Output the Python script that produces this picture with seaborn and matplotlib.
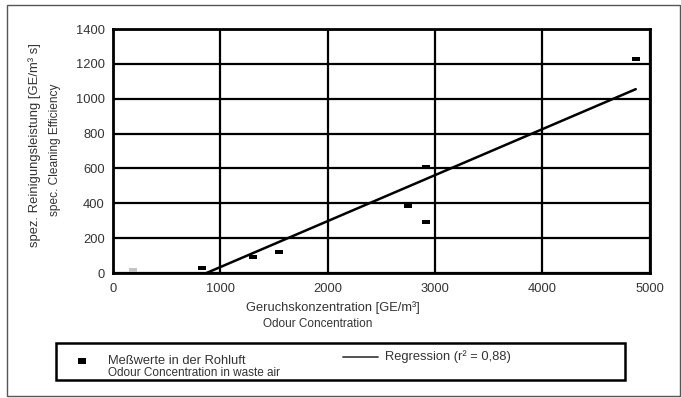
import matplotlib
matplotlib.use('Agg')
import matplotlib.pyplot as plt
import seaborn as sns
import pandas as pd
from matplotlib.patches import Rectangle
from matplotlib.lines import Line2D

# measured points (odour concentration vs. cleaning efficiency)
conc = [830, 1300, 1550, 2750, 2920, 2920, 4870]
efficiency = [30, 90, 120, 385, 295, 610, 1230]
# faint point near the origin
faint_conc = [190]
faint_eff = [15]
# regression line end points
reg_x = [870, 4870]
reg_y = [0, 1055]

x_ticks = [0, 1000, 2000, 3000, 4000, 5000]
y_ticks = [0, 200, 400, 600, 800, 1000, 1200, 1400]

sns.set_theme(style='white')
plt.rcParams['font.family'] = ['Liberation Sans', 'DejaVu Sans']

fig = plt.figure(figsize=(6.81, 3.98), dpi=100)
ax = fig.add_axes([0.166, 0.314, 0.788, 0.613])

rect_marker = [(-1, -0.55), (1, -0.55), (1, 0.55), (-1, 0.55)]
df = pd.DataFrame({'x': conc, 'y': efficiency})
sns.scatterplot(data=df, x='x', y='y', ax=ax, marker=rect_marker, s=30,
                color='black', edgecolor='black', linewidth=0, zorder=5)
sns.scatterplot(x=faint_conc, y=faint_eff, ax=ax, marker=rect_marker, s=28,
                color='#c4c4c4', linewidth=0, zorder=5)
sns.lineplot(x=reg_x, y=reg_y, ax=ax, color='black', linewidth=1.8, zorder=6)

ax.set_xlim(0, 5000)
ax.set_ylim(0, 1400)
ax.set_xticks(x_ticks)
ax.set_yticks(y_ticks)
ax.set_xticklabels([str(v) for v in x_ticks], fontsize=9.3, color='#333333')
ax.set_yticklabels([str(v) for v in y_ticks], fontsize=9.3, color='#333333')
ax.tick_params(axis='y', length=0, pad=6)
ax.tick_params(axis='x', length=0, pad=7)
ax.grid(True, color='black', linewidth=1.6)
for s in ax.spines.values():
    s.set_color('black')
    s.set_linewidth(2.0)
ax.set_xlabel('')
ax.set_ylabel('')

# axis titles (two lines each, German + English)
fig.text(0.051, 0.636, 'spez. Reinigungsleistung [GE/m³ s]', rotation=90,
         ha='center', va='center', fontsize=9.4, color='#333333')
fig.text(0.081, 0.623, 'spec. Cleaning Efficiency', rotation=90,
         ha='center', va='center', fontsize=8.6, color='#333333')
fig.text(0.489, 0.228, 'Geruchskonzentration [GE/m³]', ha='center',
         va='center', fontsize=9.3, color='#333333')
fig.text(0.467, 0.186, 'Odour Concentration', ha='center', va='center',
         fontsize=8.5, color='#333333')

# legend box
fig.patches.append(Rectangle((0.082, 0.045), 0.836, 0.093, transform=fig.transFigure,
                             fill=False, edgecolor='black', linewidth=1.8))
fig.patches.append(Rectangle((0.114, 0.086), 0.012, 0.014, transform=fig.transFigure,
                             facecolor='black', edgecolor='none'))
fig.text(0.158, 0.094, 'Meßwerte in der Rohluft', ha='left', va='center',
         fontsize=9.3, color='#333333')
fig.text(0.158, 0.064, 'Odour Concentration in waste air', ha='left', va='center',
         fontsize=8.5, color='#333333')
fig.lines.append(Line2D([0.503, 0.555], [0.103, 0.103], transform=fig.transFigure,
                        color='#444444', linewidth=1.3))
fig.text(0.566, 0.103, 'Regression (r² = 0,88)', ha='left', va='center',
         fontsize=9.3, color='#333333')

# outer frame
fig.patches.append(Rectangle((0.010, 0.005), 0.988, 0.982, transform=fig.transFigure,
                             fill=False, edgecolor='#555555', linewidth=1.0))

fig.savefig('out.png', dpi=100)
